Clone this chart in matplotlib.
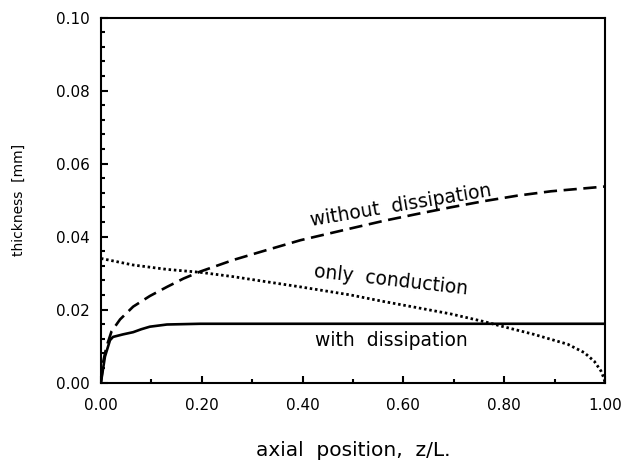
import matplotlib
matplotlib.use("Agg")
import matplotlib.pyplot as plt
from matplotlib.ticker import MultipleLocator, FormatStrFormatter

# without dissipation (dashed)
x_wo = [0.0, 0.005, 0.011, 0.021, 0.038, 0.064, 0.097, 0.131, 0.164, 0.197, 0.263, 0.329,
        0.396, 0.495, 0.561, 0.628, 0.694, 0.760, 0.826, 0.893, 1.0]
y_wo = [0.0, 0.0060, 0.0098, 0.0140, 0.0173, 0.0208, 0.0237, 0.0262, 0.0285, 0.0304, 0.0336, 0.0363,
        0.0390, 0.0422, 0.0443, 0.0462, 0.0480, 0.0497, 0.0512, 0.0524, 0.0537]

# only conduction (dotted)
x_cond = [0.0, 0.064, 0.131, 0.197, 0.263, 0.329, 0.396, 0.495, 0.561, 0.628, 0.694,
          0.760, 0.793, 0.859, 0.926, 0.959, 0.979, 0.992, 0.998, 1.0]
y_cond = [0.0340, 0.0322, 0.0310, 0.0302, 0.0290, 0.0276, 0.0262, 0.0240, 0.0222, 0.0205, 0.0188,
          0.0167, 0.0155, 0.0132, 0.0105, 0.0082, 0.0058, 0.0032, 0.0012, 0.0]

# with dissipation (solid)
x_with = [0.0, 0.008, 0.018, 0.024, 0.044, 0.064, 0.080, 0.097, 0.131, 0.197, 0.4, 0.6, 0.8, 1.0]
y_with = [0.0, 0.0071, 0.0116, 0.0125, 0.0132, 0.0138, 0.0146, 0.0153, 0.0159, 0.0161, 0.0161, 0.0161, 0.0161, 0.0161]

x_ticks = [0.0, 0.2, 0.4, 0.6, 0.8, 1.0]
y_ticks = [0.0, 0.02, 0.04, 0.06, 0.08, 0.10]

fig = plt.figure(figsize=(6.23, 4.62), dpi=100)
ax = fig.add_axes([0.162, 0.172, 0.809, 0.790])

ax.plot(x_wo, y_wo, color="black", lw=1.9, linestyle=(0, (5, 2.5)))
ax.plot(x_cond, y_cond, color="black", lw=2.0, linestyle=(0, (0.9, 1.0)))
ax.plot(x_with, y_with, color="black", lw=1.9, solid_capstyle="butt")

ax.set_xlim(0, 1.0)
ax.set_ylim(0, 0.10)
ax.set_xticks(x_ticks)
ax.set_yticks(y_ticks)
ax.xaxis.set_major_formatter(FormatStrFormatter("%.2f"))
ax.yaxis.set_major_formatter(FormatStrFormatter("%.2f"))
ax.xaxis.set_minor_locator(MultipleLocator(0.1))
ax.yaxis.set_minor_locator(MultipleLocator(0.004))
ax.tick_params(which="both", direction="in", top=False, right=False, width=1.5)
ax.tick_params(which="major", length=5, labelsize=11)
ax.tick_params(axis="x", which="major", pad=11)
ax.tick_params(axis="y", which="major", pad=8)
ax.tick_params(which="minor", length=3)
for s in ax.spines.values():
    s.set_linewidth(1.5)

ax.text(0.596, 0.0486, "without  dissipation", fontsize=13.5, rotation=9.5,
        ha="center", va="center")
ax.text(0.576, 0.0281, "only  conduction", fontsize=13.5, rotation=-6.5,
        ha="center", va="center")
ax.text(0.576, 0.0114, "with  dissipation", fontsize=13.5, ha="center", va="center")

ax.set_xlabel("axial  position,  z/L.", fontsize=14.5, labelpad=20)
ax.set_ylabel("thickness  [mm]", fontsize=10, labelpad=22)

fig.savefig("out.png", dpi=100)
